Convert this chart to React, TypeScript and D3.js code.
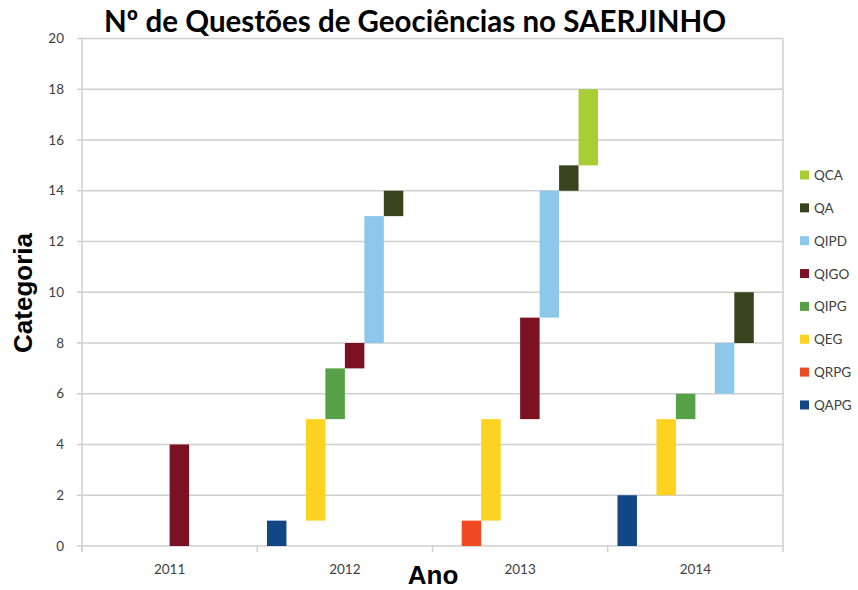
import React from 'react';
import * as d3 from 'd3';

// Floating bars: [start, end] per year, null where the series has no bar
const years = ['2011', '2012', '2013', '2014'];
const seriesNames = ['QAPG', 'QRPG', 'QEG', 'QIPG', 'QIGO', 'QIPD', 'QA', 'QCA'];
const seriesColors = ['#124785', '#f04a23', '#fdd31f', '#56a045', '#7b1123', '#8dc8ec', '#37441c', '#a9cd34'];

const qapg = [null, [0, 1], null, [0, 2]];
const qrpg = [null, null, [0, 1], null];
const qeg = [null, [1, 5], [1, 5], [2, 5]];
const qipg = [null, [5, 7], null, [5, 6]];
const qigo = [[0, 4], [7, 8], [5, 9], null];
const qipd = [null, [8, 13], [9, 14], [6, 8]];
const qa = [null, [13, 14], [14, 15], [8, 10]];
const qca = [null, null, [15, 18], null];

const yTicks = [0, 2, 4, 6, 8, 10, 12, 14, 16, 18, 20];

const allRanges = [qapg, qrpg, qeg, qipg, qigo, qipd, qa, qca];

const W = 858;
const H = 590;
const left = 82;
const right = 783;
const top = 38.5;
const bottom = 546;

const App = () => {
  const x = d3.scaleBand().domain(years).range([left, right]);
  const inner = d3.scaleBand().domain(seriesNames).range([0, x.bandwidth()]).paddingOuter(0.5);
  const y = d3.scaleLinear().domain([0, 20]).range([bottom, top]);
  const grid = '#cfcfcf';
  const labelFont = 'Lato, "Open Sans", sans-serif';

  return (
    <svg width={W} height={H} style={{ position: 'absolute', left: 0, top: 0, background: 'white' }}>
      <text x={415} y={32} textAnchor="middle" fontFamily={labelFont} fontWeight="bold" fontSize={29.5} fill="#000">
        Nº de Questões de Geociências no SAERJINHO
      </text>

      {/* gridlines */}
      {yTicks.map(t => (
        <line key={t} x1={left - 5} x2={right} y1={y(t)} y2={y(t)} stroke={grid} strokeWidth={1.5} />
      ))}
      <line x1={left} x2={left} y1={top} y2={bottom + 6} stroke={grid} strokeWidth={1.5} />
      <line x1={right} x2={right} y1={top} y2={bottom + 6} stroke={grid} strokeWidth={1.5} />
      {years.map(yr => (
        <line key={yr} x1={x(yr)!} x2={x(yr)!} y1={bottom} y2={bottom + 6} stroke={grid} strokeWidth={1.5} />
      ))}

      {/* bars */}
      {allRanges.map((ranges, si) =>
        ranges.map((r, yi) => {
          if (!r) return null;
          const x0 = x(years[yi])! + inner(seriesNames[si])!;
          return (
            <rect key={`${si}-${yi}`} x={x0} width={inner.bandwidth()} y={y(r[1])} height={y(r[0]) - y(r[1])} fill={seriesColors[si]} />
          );
        })
      )}

      {/* y tick labels */}
      {yTicks.map(t => (
        <text key={t} x={64} y={y(t) + 4.5} textAnchor="end" fontFamily={labelFont} fontSize={13.5} fill="#404040">
          {t}
        </text>
      ))}
      {/* x tick labels */}
      {years.map(yr => (
        <text key={yr} x={x(yr)! + x.bandwidth() / 2} y={574} textAnchor="middle" fontFamily={labelFont} fontSize={13.5} fill="#404040">
          {yr}
        </text>
      ))}

      <text x={433} y={584} textAnchor="middle" fontFamily='"Liberation Sans", Arial, sans-serif' fontWeight="bold" fontSize={26} fill="#000">
        Ano
      </text>
      <text transform="translate(32,293) rotate(-90)" textAnchor="middle" fontFamily='"Liberation Sans", Arial, sans-serif' fontWeight="bold" fontSize={26} fill="#000">
        Categoria
      </text>

      {/* legend, reverse order */}
      {seriesNames.slice().reverse().map((name, i) => {
        const si = seriesNames.length - 1 - i;
        const cy = 175 + i * 32.85;
        return (
          <g key={name}>
            <rect x={800} y={cy - 4.5} width={9} height={9} fill={seriesColors[si]} />
            <text x={814} y={cy + 5} fontFamily={labelFont} fontSize={13.5} fill="#404040">
              {name}
            </text>
          </g>
        );
      })}
    </svg>
  );
};

export default App;
